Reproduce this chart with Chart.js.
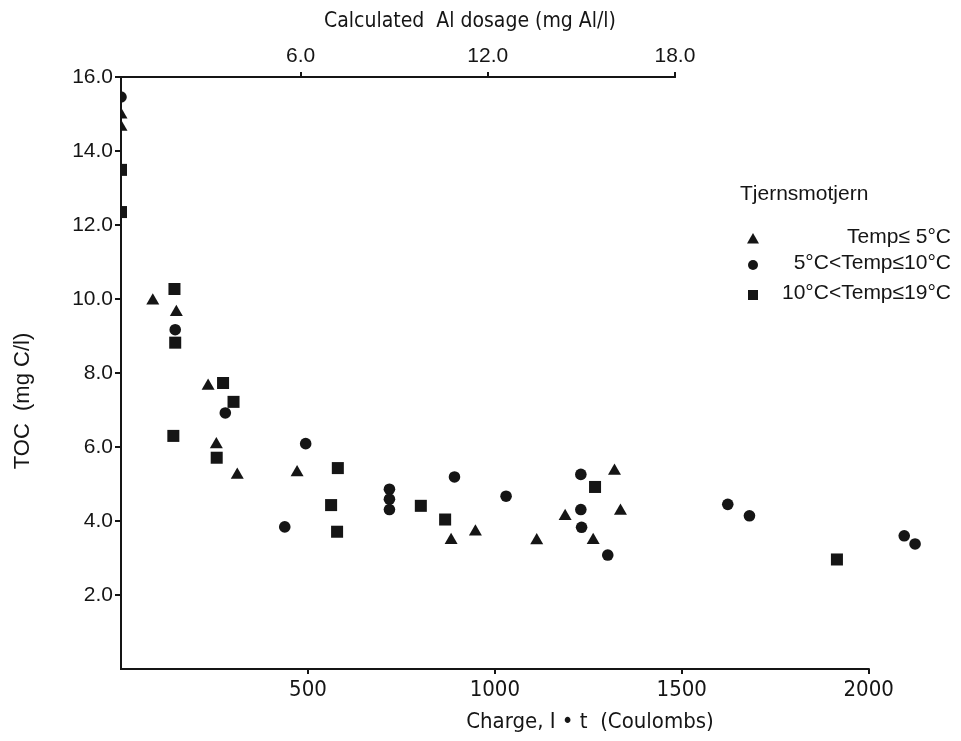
<!DOCTYPE html>
<html lang="en">
<head>
<meta charset="UTF-8">
<title>TOC vs charge - Tjernsmotjern</title>
<script src="https://cdn.jsdelivr.net/npm/chart.js"></script>
<style>
  html, body { margin: 0; padding: 0; background: #fff; }
  #wrap { width: 961px; height: 741px; }
</style>
</head>
<body>
<div id="wrap"><canvas id="tocChart" width="961" height="741"></canvas></div>
<script>
// Tjernsmotjern: TOC remaining vs. charge passed
const seriesNames = ['Temp\u2264 5\u00b0C', '5\u00b0C<Temp\u226410\u00b0C', '10\u00b0C<Temp\u226419\u00b0C'];

// Temp <= 5 C  (triangles)
const coldCharge = [0, 0, 85, 148, 233, 255, 311, 471, 883, 948, 1112, 1188, 1263, 1320, 1336];
const coldToc    = [14.98, 14.65, 9.95, 9.64, 7.65, 6.07, 5.24, 5.31, 3.48, 3.71, 3.47, 4.13, 3.48, 5.35, 4.27];

// 5 C < Temp <= 10 C  (circles)
const midCharge = [0, 145, 279, 438, 494, 718, 718, 718, 892, 1030, 1230, 1230, 1232, 1302, 1623, 1681, 2095, 2124];
const midToc    = [15.46, 9.17, 6.92, 3.84, 6.09, 4.86, 4.59, 4.31, 5.19, 4.67, 5.26, 4.31, 3.83, 3.08, 4.45, 4.14, 3.60, 3.38];

// 10 C < Temp <= 19 C  (squares)
const warmCharge = [0, 0, 143, 145, 140, 273, 301, 256, 580, 562, 578, 802, 867, 1268, 1915];
const warmToc    = [13.49, 12.35, 10.27, 8.82, 6.30, 7.73, 7.22, 5.71, 5.43, 4.43, 3.71, 4.41, 4.04, 4.92, 2.96];

const chargeTicks = [500, 1000, 1500, 2000];
const dosageTicks = [6, 12, 18];
const tocTicks = [2, 4, 6, 8, 10, 12, 14, 16];

const ink = '#151515';
const narrow = "'Liberation Sans Narrow', 'DejaVu Sans Condensed', 'Liberation Sans', sans-serif";
const regular = "'Liberation Sans', Arial, sans-serif";

function toPoints(xs, ys) {
    return xs.map((x, i) => ({ x: x, y: ys[i] }));
}

function drawMarker(ctx, kind, x, y, s) {
    ctx.beginPath();
    if (kind === 'triangle') {
        ctx.moveTo(x, y - s * 0.6);
        ctx.lineTo(x + s * 0.6, y + s * 0.45);
        ctx.lineTo(x - s * 0.6, y + s * 0.45);
        ctx.closePath();
    } else if (kind === 'circle') {
        ctx.arc(x, y, s / 2, 0, Math.PI * 2);
    } else {
        ctx.rect(x - s / 2, y - s / 2, s, s);
    }
    ctx.fill();
}

// axis lines that stop at 2000 C / 18 mg Al/l, the axis titles and the legend
const framePlugin = {
    id: 'frame',
    afterDraw(chart) {
        const ctx = chart.ctx;
        const area = chart.chartArea;
        const x = chart.scales.x;
        const x2 = chart.scales.x2;
        ctx.save();
        ctx.strokeStyle = ink;
        ctx.lineWidth = 2;
        ctx.beginPath();
        ctx.moveTo(area.left, area.bottom);
        ctx.lineTo(x.getPixelForValue(2000) + 1, area.bottom);
        ctx.moveTo(area.left, area.top);
        ctx.lineTo(x2.getPixelForValue(18) + 1, area.top);
        ctx.stroke();

        ctx.fillStyle = ink;
        ctx.textAlign = 'center';
        ctx.textBaseline = 'middle';

        // x titles (printed off-centre in the original)
        ctx.font = '21px ' + narrow;
        ctx.fillText('Calculated  Al dosage (mg Al/l)', 470, 22);
        ctx.font = '22px ' + narrow;
        ctx.fillText('Charge, I \u2022 t  (Coulombs)', 590, 722);

        // y title
        ctx.font = '22px ' + regular;
        ctx.translate(23, 401);
        ctx.rotate(-Math.PI / 2);
        ctx.fillText('TOC  (mg C/l)', 0, 0);
        ctx.setTransform(1, 0, 0, 1, 0, 0);

        // legend
        ctx.font = '21px ' + regular;
        ctx.textAlign = 'left';
        ctx.fillText('Tjernsmotjern', 740, 194);
        const kinds = ['triangle', 'circle', 'square'];
        const rows = [237, 263, 293];
        ctx.textAlign = 'right';
        seriesNames.forEach((name, i) => {
            drawMarker(ctx, kinds[i], 753, rows[i] + 2, 10);
            ctx.fillText(name, 951, rows[i]);
        });
        ctx.restore();
    }
};

const markerBase = { backgroundColor: ink, borderColor: ink, borderWidth: 0, showLine: false };

new Chart(document.getElementById('tocChart'), {
    type: 'scatter',
    data: {
        datasets: [
            Object.assign({ label: seriesNames[0], data: toPoints(coldCharge, coldToc), pointStyle: 'triangle', pointRadius: 7.5 }, markerBase),
            Object.assign({ label: seriesNames[1], data: toPoints(midCharge, midToc), pointStyle: 'circle', pointRadius: 5.8 }, markerBase),
            Object.assign({ label: seriesNames[2], data: toPoints(warmCharge, warmToc), pointStyle: 'rect', pointRadius: 8.5 }, markerBase)
        ]
    },
    options: {
        responsive: false,
        animation: false,
        devicePixelRatio: 1,
        layout: { padding: { left: 65, right: 25, top: 0, bottom: 0 } },
        plugins: {
            legend: { display: false },
            tooltip: { enabled: false }
        },
        scales: {
            x: {
                type: 'linear',
                position: 'bottom',
                min: 0,
                max: 2180,
                afterBuildTicks: (axis) => { axis.ticks = chargeTicks.map(v => ({ value: v })); },
                afterFit: (axis) => { axis.height = 72; },
                border: { display: false },
                grid: { drawOnChartArea: false, drawTicks: true, tickLength: 5, color: ink, lineWidth: 2 },
                ticks: {
                    autoSkip: false, maxRotation: 0, padding: 3, color: ink,
                    font: { family: narrow, size: 22 },
                    callback: (v) => String(v)
                }
            },
            x2: {
                type: 'linear',
                position: 'top',
                min: 0.24,
                max: 26.37,
                afterBuildTicks: (axis) => { axis.ticks = dosageTicks.map(v => ({ value: v })); },
                afterFit: (axis) => { axis.height = 77; },
                border: { display: false },
                grid: { drawOnChartArea: false, drawTicks: true, tickLength: 5, color: ink, lineWidth: 2 },
                ticks: {
                    autoSkip: false, maxRotation: 0, padding: 3, color: ink,
                    font: { family: regular, size: 21 },
                    callback: (v) => Number(v).toFixed(1)
                }
            },
            y: {
                type: 'linear',
                min: 0,
                max: 16,
                afterBuildTicks: (axis) => { axis.ticks = tocTicks.map(v => ({ value: v })); },
                afterFit: (axis) => { axis.width = 56; },
                border: { display: true, color: ink, width: 2 },
                grid: { drawOnChartArea: false, drawTicks: true, tickLength: 6, color: ink, lineWidth: 2 },
                ticks: {
                    autoSkip: false, padding: 2, color: ink,
                    font: { family: regular, size: 21 },
                    callback: (v) => Number(v).toFixed(1)
                }
            }
        }
    },
    plugins: [framePlugin]
});
</script>
</body>
</html>
